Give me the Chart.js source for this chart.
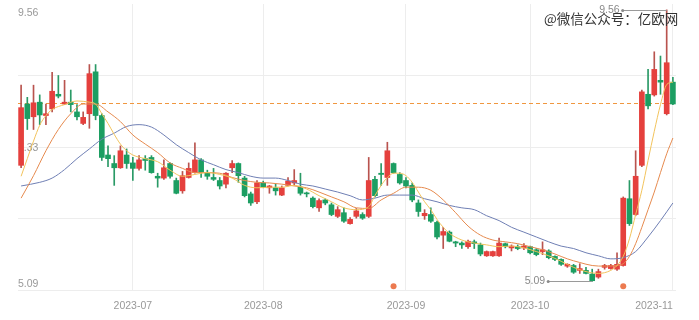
<!DOCTYPE html>
<html>
<head>
<meta charset="utf-8">
<script src="https://cdn.jsdelivr.net/npm/chart.js@4"></script>
<style>
  html, body { margin: 0; padding: 0; background: #fff; }
  #wrap { width: 699px; height: 320px; }
</style>
</head>
<body>
<div id="wrap"><canvas id="kline"></canvas></div>
<script>
// trading days shown, per month
const tradingDays = {
    '2023-06': [5, 6, 7, 8, 9, 12, 13, 14, 15, 16, 19, 20, 21, 26, 27, 28, 29, 30],
    '2023-07': [3, 4, 5, 6, 7, 10, 11, 12, 13, 14, 17, 18, 19, 20, 21, 24, 25, 26, 27, 28, 31],
    '2023-08': [1, 2, 3, 4, 7, 8, 9, 10, 11, 14, 15, 16, 17, 18, 21, 22, 23, 24, 25, 28, 29, 30, 31],
    '2023-09': [1, 4, 5, 6, 7, 8, 11, 12, 13, 14, 15, 18, 19, 20, 21, 22, 25, 26, 27, 28],
    '2023-10': [9, 10, 11, 12, 13, 16, 17, 18, 19, 20, 23, 24, 25, 26, 27, 30, 31],
    '2023-11': [1, 2, 3, 6, 7, 8, 9]
};
const categories = Object.entries(tradingDays).flatMap(([m, days]) =>
    days.map(d => m + '-' + String(d).padStart(2, '0')));

const open = [7.00,8.01,7.80,8.04,7.82,7.93,8.17,8.01,8.04,7.88, 7.69,7.85,8.54,7.82,7.17,7.03,6.96,7.17,7.04,6.95,
    7.11,7.13,6.82,6.79,7.03,6.75,6.58,6.80,6.88,7.09, 6.87,6.80,6.75,6.69,6.96,7.03,6.79,6.53,6.40,6.71,
    6.63,6.63,6.51,6.67,6.71,6.64,6.54,6.46,6.30,6.43, 6.35,6.16,6.22,6.04,6.16,6.19,6.16,6.77,6.87,6.80,
    7.03,6.85,6.75,6.67,6.38,6.17,6.19,6.06,5.85,5.90, 5.74,5.72,5.66,5.74,5.69,5.51,5.51,5.51,5.71,5.64,
    5.66,5.64,5.66,5.61,5.58,5.59,5.50,5.45,5.34,5.35, 5.27,5.27,5.21,5.16,5.32,5.30,5.29,5.35,6.45,6.19,
    7.00,8.17,8.16,8.40,7.85,8.37];
const high = [8.32,8.12,8.32,8.16,8.01,8.53,8.48,8.40,8.24,8.00, 7.88,8.66,8.66,7.85,7.32,7.16,7.32,7.27,7.13,7.16,
    7.16,7.16,6.87,7.09,7.04,6.79,6.90,7.04,7.37,7.11, 6.92,6.95,6.80,6.88,7.08,7.04,6.82,6.56,6.75,6.74,
    6.67,6.69,6.66,6.80,6.93,6.87,6.56,6.48,6.45,6.45, 6.38,6.32,6.30,6.14,6.29,6.22,7.13,6.82,7.03,7.38,
    7.04,6.88,6.80,6.71,6.43,6.27,6.30,6.08,5.98,5.92, 5.75,5.74,5.77,5.77,5.72,5.59,5.59,5.80,5.72,5.69,
    5.69,5.71,5.67,5.63,5.74,5.61,5.51,5.46,5.38,5.37, 5.38,5.32,5.29,5.29,5.37,5.37,5.56,6.48,6.75,7.24,
    8.24,8.58,8.87,8.80,9.56,8.45];
const low = [6.96,7.59,7.59,7.67,7.67,7.88,8.11,8.00,7.88,7.75, 7.67,7.61,7.75,7.08,6.98,6.67,6.95,6.95,6.75,6.92,
    6.92,6.87,6.64,6.77,6.79,6.53,6.54,6.79,6.87,6.80, 6.77,6.75,6.61,6.63,6.88,6.72,6.48,6.34,6.37,6.63,
    6.54,6.51,6.50,6.66,6.67,6.51,6.48,6.30,6.24,6.35, 6.17,6.14,6.06,6.03,6.13,6.11,6.14,6.48,6.67,6.67,
    6.87,6.69,6.63,6.40,6.16,6.11,6.06,5.79,5.63,5.74, 5.66,5.63,5.63,5.63,5.51,5.50,5.50,5.50,5.64,5.59,
    5.61,5.61,5.54,5.51,5.53,5.46,5.43,5.35,5.32,5.22, 5.22,5.21,5.09,5.14,5.29,5.29,5.27,5.34,6.01,6.17,
    6.98,7.93,8.14,8.17,7.83,8.00];
const close = [7.95,7.77,8.03,7.83,7.85,8.22,8.14,8.04,8.00,7.80, 7.79,8.51,7.82,7.13,7.11,6.96,7.24,7.03,6.95,7.09,
    7.08,6.88,6.79,6.96,6.82,6.54,6.83,6.95,7.09,6.88, 6.82,6.77,6.66,6.87,7.03,6.83,6.50,6.38,6.71,6.64,
    6.66,6.58,6.63,6.74,6.75,6.54,6.53,6.32,6.42,6.38, 6.19,6.27,6.08,6.11,6.25,6.13,6.75,6.50,6.85,7.24,
    6.88,6.71,6.66,6.43,6.24,6.21,6.08,5.82,5.91,5.75, 5.72,5.69,5.75,5.71,5.54,5.58,5.58,5.72,5.66,5.67,
    5.63,5.67,5.56,5.53,5.61,5.48,5.45,5.37,5.37,5.24, 5.30,5.22,5.10,5.25,5.35,5.35,5.37,6.46,6.04,6.82,
    8.21,7.98,8.58,8.37,8.69,8.01];

// moving averages: [day index, value]
const ma5 = [[0,6.82],[1,7.11],[2,7.40],[3,7.66],[4,7.82],[5,7.92],[7,8.00],[9,8.06],[11,8.04],[12,8.01],[13,7.85],
    [14,7.69],[15,7.51],[16,7.35],[17,7.24],[18,7.17],[20,7.11],[22,7.06],[24,6.92],[26,6.82],[28,6.85],[30,6.88],
    [32,6.85],[34,6.79],[36,6.67],[38,6.63],[40,6.64],[42,6.64],[44,6.67],[46,6.61],[48,6.50],[50,6.40],[52,6.30],
    [54,6.27],[56,6.32],[57,6.50],[58,6.67],[59,6.80],[60,6.87],[61,6.87],[62,6.83],[63,6.72],[64,6.56],[65,6.40],
    [66,6.27],[67,6.11],[68,5.98],[69,5.88],[71,5.77],[73,5.72],[75,5.69],[77,5.66],[79,5.67],[81,5.64],[83,5.58],
    [85,5.51],[87,5.42],[89,5.32],[91,5.25],[93,5.22],[95,5.27],[96,5.35],[97,5.50],[98,5.79],[99,6.19],[100,6.59],
    [101,7.08],[102,7.56],[103,8.00],[104,8.33],[105,8.37]];
const ma10 = [[0,6.46],[2,6.83],[4,7.24],[6,7.59],[8,7.85],[10,8.01],[12,8.01],[14,7.88],[16,7.72],[18,7.50],
    [20,7.35],[22,7.21],[24,7.04],[26,6.95],[28,6.88],[30,6.88],[32,6.87],[34,6.80],[36,6.75],[38,6.72],[40,6.71],
    [42,6.69],[44,6.66],[46,6.63],[48,6.56],[50,6.48],[52,6.40],[54,6.30],[56,6.29],[58,6.43],[60,6.54],[62,6.64],
    [64,6.64],[66,6.59],[68,6.43],[70,6.22],[72,6.00],[74,5.85],[76,5.77],[78,5.74],[80,5.71],[82,5.66],[84,5.61],
    [86,5.54],[88,5.46],[90,5.40],[92,5.35],[94,5.34],[96,5.35],[97,5.38],[98,5.50],[99,5.71],[100,5.98],[101,6.27],
    [102,6.56],[103,6.88],[104,7.19],[105,7.45]];
const ma20 = [[0,6.66],[3,6.72],[5,6.79],[7,6.93],[9,7.11],[11,7.27],[13,7.43],[15,7.53],[17,7.64],[19,7.67],
    [21,7.63],[23,7.50],[25,7.34],[27,7.21],[29,7.09],[31,7.01],[33,6.93],[35,6.88],[37,6.82],[39,6.79],[41,6.79],
    [43,6.75],[45,6.69],[47,6.66],[49,6.61],[51,6.56],[53,6.50],[55,6.43],[57,6.46],[59,6.51],[61,6.51],[63,6.51],
    [65,6.45],[67,6.40],[69,6.34],[71,6.30],[73,6.27],[75,6.17],[77,6.09],[79,5.98],[81,5.90],[83,5.82],[85,5.74],
    [87,5.67],[89,5.63],[91,5.56],[93,5.51],[95,5.46],[97,5.48],[99,5.58],[101,5.82],[103,6.09],[105,6.38]];

const refPrice = 8.02;           // dashed horizontal line
const signalDays = [60, 97];     // orange dots under the candles
const signalPrice = 5.01;
const yTicks = [5.09, 7.33, 9.56];
const monthLabels = ['2023-07', '2023-08', '2023-09', '2023-10', '2023-11'];
const watermark = '@微信公众号：亿欧网';

const UP = '#e5403d', DOWN = '#1c9e62';
const UP_WICK = '#b9534e', DOWN_WICK = '#2a9a66';
const FONT = '"Liberation Sans", Arial, sans-serif';

// month labels sit on the first trading day; the last one is drawn flush with the right edge
const xLabelAt = {};
monthLabels.forEach((m, k) => {
    const idx = k === monthLabels.length - 1 ? categories.length - 1 : categories.findIndex(c => c.startsWith(m));
    xLabelAt[idx] = m;
});

const isUp = close.map((c, i) => c >= open[i]);
const toPts = arr => arr.map(([i, v]) => ({ x: categories[i], y: v }));

// vertical scales take no room: labels sit inside the plot
const noRoom = s => { s.width = 0; s.paddingTop = 0; s.paddingBottom = 0; };

const extras = {
    id: 'extras',
    beforeDatasetsDraw(chart) {
        const { ctx, chartArea, scales } = chart;
        const y = Math.round(scales.y.getPixelForValue(refPrice)) + 0.5;
        ctx.save();
        ctx.strokeStyle = '#f0973f';
        ctx.lineWidth = 1;
        ctx.setLineDash([4, 3]);
        ctx.beginPath();
        ctx.moveTo(chartArea.left, y);
        ctx.lineTo(chartArea.right, y);
        ctx.stroke();
        ctx.restore();
    },
    afterDatasetsDraw(chart) {
        const { ctx, scales } = chart;
        const iMax = high.indexOf(Math.max(...high));
        const iMin = low.indexOf(Math.min(...low));
        ctx.save();
        ctx.font = '10.5px ' + FONT;
        ctx.textBaseline = 'middle';
        ctx.textAlign = 'right';
        [[iMax, high[iMax]], [iMin, low[iMin]]].forEach(([i, v]) => {
            const x = scales.x.getPixelForValue(i);
            const y = Math.round(scales.y.getPixelForValue(v)) + 0.5;
            const start = x - 44;
            ctx.strokeStyle = '#9a9a9a';
            ctx.lineWidth = 1;
            ctx.beginPath();
            ctx.moveTo(start, y);
            ctx.lineTo(x, y);
            ctx.stroke();
            ctx.fillStyle = '#8a8a8a';
            ctx.beginPath();
            ctx.arc(start, y, 1.5, 0, Math.PI * 2);
            ctx.fill();
            ctx.fillText(v.toFixed(2), start - 3, y);
        });
        ctx.font = '13.5px "Noto Sans CJK SC", sans-serif';
        ctx.textAlign = 'left';
        ctx.fillStyle = '#333';
        ctx.fillText(watermark, 544, 19);
        ctx.restore();
    }
};

new Chart(document.getElementById('kline'), {
    type: 'bar',
    data: {
        labels: categories,
        datasets: [
            {
                type: 'line', label: 'MA5', data: toPts(ma5), borderColor: '#f2c35c', borderWidth: 1,
                pointRadius: 0, cubicInterpolationMode: 'monotone', order: 0
            },
            {
                type: 'line', label: 'MA10', data: toPts(ma10), borderColor: '#e68a4e', borderWidth: 1,
                pointRadius: 0, cubicInterpolationMode: 'monotone', order: 0
            },
            {
                type: 'line', label: 'MA20', data: toPts(ma20), borderColor: '#6f7fb4', borderWidth: 1,
                pointRadius: 0, cubicInterpolationMode: 'monotone', order: 0
            },
            {
                type: 'line', label: 'signal', data: signalDays.map(i => ({ x: categories[i], y: signalPrice })),
                showLine: false, pointRadius: 3, pointBackgroundColor: '#ec7a50', pointBorderWidth: 0, order: 0
            },
            {
                label: 'body', data: open.map((o, i) => [Math.min(o, close[i]), Math.max(o, close[i])]),
                backgroundColor: isUp.map(u => u ? UP : DOWN), barThickness: 5, minBarLength: 1,
                grouped: false, order: 1
            },
            {
                label: 'wick', data: low.map((l, i) => [l, high[i]]),
                backgroundColor: isUp.map(u => u ? UP_WICK : DOWN_WICK), barThickness: 1,
                grouped: false, order: 2
            }
        ]
    },
    options: {
        animation: false,
        responsive: true,
        maintainAspectRatio: false,
        layout: { padding: { left: 18, right: 23, top: 0, bottom: -2.6 } },
        plugins: { legend: { display: false }, tooltip: { enabled: false } },
        scales: {
            x: {
                offset: true,
                grid: {
                    offset: false, drawTicks: false,
                    color: c => xLabelAt[c.index] ? '#ededed' : 'rgba(0,0,0,0)'
                },
                border: { display: false },
                ticks: {
                    autoSkip: false, maxRotation: 0, align: 'inner', padding: 10,
                    color: '#999', font: { size: 10.5, family: FONT },
                    callback: (v, i) => xLabelAt[i] || ''
                }
            },
            y: {
                position: 'left', min: 4.947, max: 9.657,
                afterBuildTicks: s => { s.ticks = yTicks.map(v => ({ value: v })); },
                afterFit: noRoom,
                grid: { display: false },
                border: { display: false },
                ticks: {
                    mirror: true, padding: 0, labelOffset: 3, color: '#999',
                    font: { size: 10.5, family: FONT }, callback: v => v.toFixed(2)
                }
            },
            rows: {
                position: 'right', min: 0, max: 4,
                afterBuildTicks: s => { s.ticks = [0, 1, 2, 3, 4].map(v => ({ value: v })); },
                afterFit: noRoom,
                ticks: { display: false },
                grid: { drawTicks: false, color: c => c.tick.value === 4 ? 'rgba(0,0,0,0)' : '#ededed' },
                border: { display: false }
            }
        }
    },
    plugins: [extras]
});
</script>
</body>
</html>
